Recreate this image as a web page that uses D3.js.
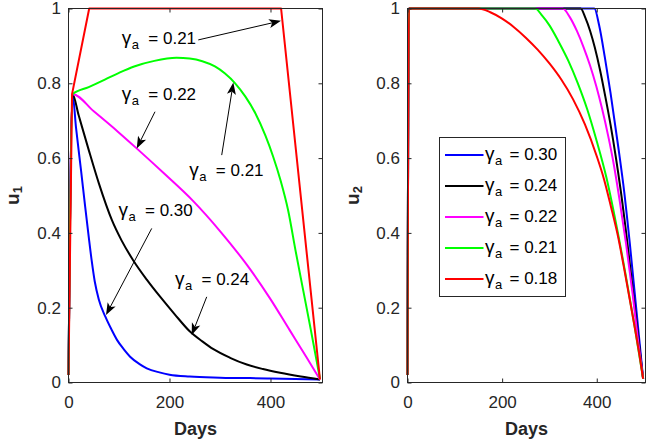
<!DOCTYPE html>
<html><head><meta charset="utf-8">
<script src="https://cdn.jsdelivr.net/npm/d3@7"></script>
<style>body{margin:0;background:#fff}svg{display:block}text{font-family:"Liberation Sans",Arial,Helvetica,sans-serif}</style>
</head><body><svg id="c" width="646" height="441"></svg>
<script>
// ---- data ----
const gammaValues = ["0.30", "0.24", "0.22", "0.21", "0.18"];
const seriesColors = ["#0000ff", "#000000", "#ff00ff", "#00ff00", "#ff0000"];
const xTicks = [0, 200, 400];
const yTicks = [0, 0.2, 0.4, 0.6, 0.8, 1];
const yTickLabels = ["0", "0.2", "0.4", "0.6", "0.8", "1"];
const xDomain = [0, 503];
const yDomain = [0, 1];

// u1 (left panel), [day, value]
const u1_030 = [[0,0.02],[8,0.771],[15,0.68],[25,0.565],[33,0.47],[40,0.39],[46,0.325],[52,0.27],[60,0.222],[73,0.176],[85,0.142],[96,0.114],[110,0.088],[122,0.069],[140,0.05],[155,0.038],[180,0.027],[200,0.021],[240,0.016],[300,0.013],[400,0.011],[498,0.008]];
const u1_024 = [[0,0.02],[8,0.771],[20,0.715],[40,0.622],[60,0.533],[86,0.434],[105,0.38],[128,0.327],[155,0.275],[181,0.23],[210,0.183],[240,0.137],[265,0.11],[287,0.089],[320,0.066],[353,0.048],[385,0.036],[419,0.026],[460,0.016],[498,0.008]];
const u1_022 = [[0,0.02],[8,0.771],[50,0.725],[100,0.668],[135,0.626],[190,0.558],[247,0.485],[300,0.405],[353,0.315],[399,0.225],[438,0.14],[471,0.068],[498,0.008]];
const u1_021 = [[0,0.02],[8,0.771],[40,0.79],[72,0.81],[100,0.828],[130,0.845],[170,0.86],[214,0.868],[240,0.866],[265,0.859],[290,0.845],[310,0.826],[330,0.8],[350,0.765],[370,0.72],[390,0.66],[405,0.605],[420,0.54],[435,0.46],[450,0.35],[465,0.245],[480,0.14],[498,0.01]];
const u1_018 = [[0,0.02],[7,0.771],[41,1],[421,1],[498,0.008]];

// u2 (right panel), [day, value]
const u2_030 = [[0,0.02],[3,1],[395,1],[405,0.955],[417,0.87],[429,0.775],[446,0.625],[458,0.51],[470,0.37],[484,0.19],[498,0.01]];
const u2_024 = [[0,0.02],[3,1],[366,1],[376,0.975],[386,0.94],[396,0.895],[407,0.835],[418,0.765],[429,0.69],[440,0.605],[451,0.51],[465,0.37],[480,0.205],[498,0.01]];
const u2_022 = [[0,0.02],[3,1],[328,1],[343,0.977],[358,0.94],[372,0.897],[386,0.847],[399,0.792],[411,0.733],[424,0.66],[436,0.583],[448,0.49],[462,0.37],[476,0.235],[488,0.105],[498,0.01]];
const u2_021 = [[0,0.02],[3,1],[270,1],[285,0.98],[300,0.955],[320,0.91],[340,0.86],[360,0.8],[380,0.73],[400,0.645],[420,0.55],[440,0.43],[460,0.295],[480,0.15],[498,0.01]];
const u2_018 = [[0,0.02],[3,1],[150,1],[175,0.99],[200,0.973],[225,0.95],[250,0.922],[275,0.89],[300,0.853],[325,0.81],[350,0.757],[375,0.69],[400,0.605],[415,0.545],[430,0.47],[445,0.39],[460,0.29],[475,0.185],[490,0.075],[498,0.01]];

const u1Series = [u1_030, u1_024, u1_022, u1_021, u1_018];
const u2Series = [u2_030, u2_024, u2_022, u2_021, u2_018];

// annotation labels (left panel): value, text anchor point, arrow start, arrow tip (data coords)
const annLabels = ["0.21", "0.22", "0.21", "0.30", "0.24"];
const annText  = [[105.6,0.904],[105.6,0.755],[239.3,0.551],[99.0,0.444],[210.9,0.261]];
const annFrom  = [[257.0,0.916],[171.3,0.724],[303.4,0.608],[164.8,0.412],[273.7,0.229]];
const annTip   = [[420.8,0.967],[135.1,0.626],[326.4,0.802],[74.3,0.1805],[244.0,0.127]];

// ---- drawing ----
const svg = d3.select("#c");
const AX = "#262626";
const yRange = [382.5, 8.5];
const panels = [
  {xr: [68.5, 322.5], series: u1Series, ylab: "1", ylabX: 18.5},
  {xr: [407.5, 645.5], series: u2Series, ylab: "2", ylabX: 358.5}
];

function gammaText(g, x, y, val, eqOffset) {
  const t = g.append("text").attr("x", x).attr("y", y).attr("font-size", 17).attr("fill", "#000");
  t.append("tspan").attr("font-size", 19).text("γ");
  t.append("tspan").attr("font-size", 13).attr("dy", 5).attr("dx", 0.5).text("a");
  t.append("tspan").attr("x", x + eqOffset).attr("dy", -5).text("= " + val);
}

function arrow(g, x1, y1, x2, y2) {
  const dx = x2 - x1, dy = y2 - y1, len = Math.hypot(dx, dy);
  const ux = dx / len, uy = dy / len, px = -uy, py = ux;
  const L = 12, W = 4.5, N = 3;
  const bx = x2 - ux * L, by = y2 - uy * L;
  const nx = x2 - ux * (L - N), ny = y2 - uy * (L - N);
  g.append("line").attr("x1", x1).attr("y1", y1).attr("x2", nx).attr("y2", ny)
    .attr("stroke", "#000").attr("stroke-width", 1);
  g.append("path").attr("d", `M${x2},${y2}L${bx + px * W},${by + py * W}L${nx},${ny}L${bx - px * W},${by - py * W}Z`)
    .attr("fill", "#000");
}

panels.forEach((p, pi) => {
  const x = d3.scaleLinear().domain(xDomain).range(p.xr);
  const y = d3.scaleLinear().domain(yDomain).range(yRange);
  const g = svg.append("g");

  // curves
  const line = d3.line().x(d => x(d[0])).y(d => y(d[1]));
  p.series.forEach((s, i) => {
    const isCorner = (pi === 0 && i === 4);
    g.append("path").datum(s)
      .attr("d", line.curve(isCorner ? d3.curveLinear : d3.curveMonotoneX))
      .attr("fill", "none").attr("stroke", seriesColors[i]).attr("stroke-width", 2)
      .attr("stroke-linejoin", "round");
  });

  // axes (inward ticks)
  const fmtY = (d) => yTickLabels[yTicks.indexOf(d)];
  const bottom = g.append("g").attr("transform", `translate(0,${yRange[0]})`)
    .call(d3.axisBottom(x).tickValues(xTicks).tickSizeInner(-4).tickSizeOuter(0).tickPadding(13).tickFormat(d3.format("d")));
  const top = g.append("g").attr("transform", `translate(0,${yRange[1]})`)
    .call(d3.axisTop(x).tickValues(xTicks).tickSizeInner(-4).tickSizeOuter(0).tickFormat(""));
  const left = g.append("g").attr("transform", `translate(${p.xr[0]},0)`)
    .call(d3.axisLeft(y).tickValues(yTicks).tickSizeInner(-4).tickSizeOuter(0).tickPadding(7.5).tickFormat(fmtY));
  const right = g.append("g").attr("transform", `translate(${p.xr[1]},0)`)
    .call(d3.axisRight(y).tickValues(yTicks).tickSizeInner(-4).tickSizeOuter(0).tickFormat(""));
  [bottom, top, left, right].forEach(a => {
    a.select(".domain").remove();
    a.selectAll(".tick line").attr("stroke", AX);
    a.selectAll("text").attr("font-size", 17).attr("fill", AX)
      .attr("font-family", '"Liberation Sans",Arial,sans-serif');
  });
  // box
  g.append("rect").attr("x", p.xr[0]).attr("y", yRange[1])
    .attr("width", p.xr[1] - p.xr[0]).attr("height", yRange[0] - yRange[1])
    .attr("fill", "none").attr("stroke", AX).attr("stroke-width", 1);

  // x label
  g.append("text").attr("x", (p.xr[0] + p.xr[1]) / 2).attr("y", 435)
    .attr("text-anchor", "middle").attr("font-size", 18).attr("font-weight", "bold").attr("fill", AX).text("Days");
  // y label
  const yl = g.append("text").attr("transform", `translate(${p.ylabX},${(yRange[0] + yRange[1]) / 2}) rotate(-90)`)
    .attr("text-anchor", "middle").attr("font-size", 19).attr("font-weight", "bold").attr("fill", AX);
  yl.append("tspan").text("u");
  yl.append("tspan").attr("font-size", 13).attr("dy", 3).text(p.ylab);

  if (pi === 0) {
    const ga = g.append("g");
    annLabels.forEach((lab, i) => {
      gammaText(ga, x(annText[i][0]), y(annText[i][1]), lab, 26.5);
      arrow(ga, x(annFrom[i][0]), y(annFrom[i][1]), x(annTip[i][0]), y(annTip[i][1]));
    });
  } else {
    const lg = g.append("g");
    lg.append("rect").attr("x", 439.5).attr("y", 137.5).attr("width", 126).attr("height", 159)
      .attr("fill", "#fff").attr("stroke", AX).attr("stroke-width", 1);
    gammaValues.forEach((v, i) => {
      const ry = 155 + i * 31;
      lg.append("line").attr("x1", 445).attr("x2", 483.5).attr("y1", ry).attr("y2", ry)
        .attr("stroke", seriesColors[i]).attr("stroke-width", 2);
      gammaText(lg, 485, ry + 5, v, 24.5);
    });
  }
});
</script>
</body></html>
